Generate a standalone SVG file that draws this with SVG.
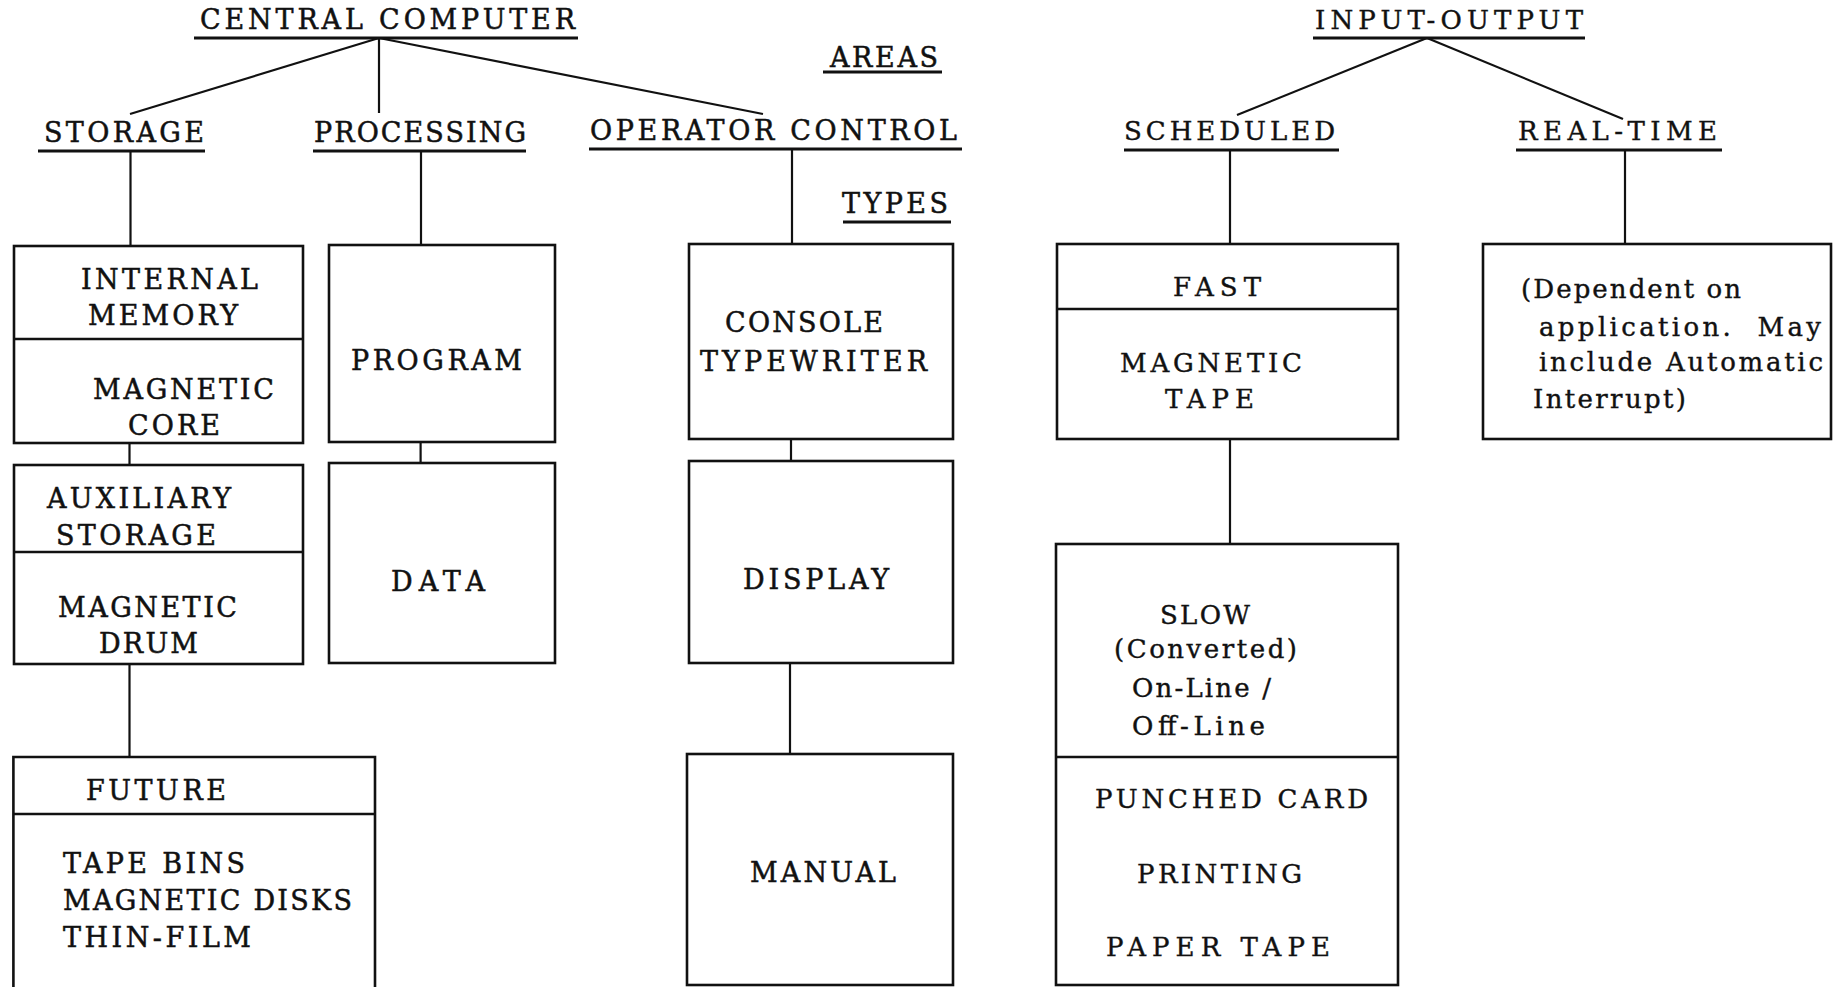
<svg xmlns="http://www.w3.org/2000/svg" width="1838" height="987" viewBox="0 0 1838 987">
<style>
.bg{fill:#fff}
.box{fill:none;stroke:#111;stroke-width:2.6}
.ln{fill:none;stroke:#111;stroke-width:2.2}
.ul{fill:none;stroke:#111;stroke-width:2.8}
.t{font-family:"DejaVu Serif","Liberation Serif",serif;font-size:27px;fill:#111;stroke:#111;stroke-width:0.5}
.c{font-family:"DejaVu Serif","Liberation Serif",serif;font-size:26px;fill:#111;stroke:#111;stroke-width:0.4}
</style>
<rect class="bg" x="0" y="0" width="1838" height="987"/>
<g id="connectors">
<path class="ln" d="M379 38 L130 114"/>
<path class="ln" d="M379 38 L379 113"/>
<path class="ln" d="M379 38 L763 114"/>
<path class="ln" d="M130.5 151 V246"/>
<path class="ln" d="M421 151 V245"/>
<path class="ln" d="M792 149 V244"/>
<path class="ln" d="M129.5 443 V465"/>
<path class="ln" d="M129.5 664 V757"/>
<path class="ln" d="M420.6 442 V463"/>
<path class="ln" d="M791 439 V461"/>
<path class="ln" d="M790 663 V754"/>
<path class="ln" d="M1427 38 L1237 115"/>
<path class="ln" d="M1427 38 L1623 119"/>
<path class="ln" d="M1230 150 V244"/>
<path class="ln" d="M1625 150 V244"/>
<path class="ln" d="M1230 439 V544"/>
</g>
<g id="central-computer">
<text class="t" x="200" y="29" textLength="375" lengthAdjust="spacing">CENTRAL COMPUTER</text>
<path class="ul" d="M194 38 H578"/>
</g>
<g id="areas">
<text class="t" x="830" y="67" textLength="108" lengthAdjust="spacing">AREAS</text>
<path class="ul" d="M823 72 H942"/>
</g>
<g id="types">
<text class="t" x="842" y="213" textLength="106" lengthAdjust="spacing">TYPES</text>
<path class="ul" d="M843 222 H951"/>
</g>
<g id="storage">
<text class="t" x="44" y="142" textLength="160" lengthAdjust="spacing">STORAGE</text>
<path class="ul" d="M38 151 H205"/>
</g>
<g id="processing">
<text class="t" x="314" y="142" textLength="212" lengthAdjust="spacing">PROCESSING</text>
<path class="ul" d="M313 151 H526"/>
</g>
<g id="operator-control">
<text class="t" x="590" y="140" textLength="367" lengthAdjust="spacing">OPERATOR CONTROL</text>
<path class="ul" d="M589 149 H962"/>
</g>
<g id="internal-memory">
<rect class="box" x="14" y="246" width="289" height="197"/>
<path class="box" d="M14 339 H303"/>
<text class="t" x="81" y="289" textLength="177" lengthAdjust="spacing">INTERNAL</text>
<text class="t" x="88" y="325" textLength="150" lengthAdjust="spacing">MEMORY</text>
<text class="t" x="93" y="399" textLength="181" lengthAdjust="spacing">MAGNETIC</text>
<text class="t" x="128" y="435" textLength="92" lengthAdjust="spacing">CORE</text>
</g>
<g id="auxiliary-storage">
<rect class="box" x="14" y="465" width="289" height="199"/>
<path class="box" d="M14 552 H303"/>
<text class="t" x="47" y="508" textLength="184" lengthAdjust="spacing">AUXILIARY</text>
<text class="t" x="56" y="545" textLength="160" lengthAdjust="spacing">STORAGE</text>
<text class="t" x="58" y="617" textLength="179" lengthAdjust="spacing">MAGNETIC</text>
<text class="t" x="99" y="653" textLength="99" lengthAdjust="spacing">DRUM</text>
</g>
<g id="future">
<path class="box" d="M13.4 987 V757 H375 V987"/>
<path class="box" d="M13.4 814 H375"/>
<text class="t" x="86" y="800" textLength="140" lengthAdjust="spacing">FUTURE</text>
<text class="t" x="63" y="873" textLength="182" lengthAdjust="spacing">TAPE BINS</text>
<text class="t" x="63" y="910" textLength="289" lengthAdjust="spacing">MAGNETIC DISKS</text>
<text class="t" x="63" y="947" textLength="188" lengthAdjust="spacing">THIN-FILM</text>
</g>
<g id="program">
<rect class="box" x="329" y="245" width="226" height="197"/>
<text class="t" x="351" y="370" textLength="171" lengthAdjust="spacing">PROGRAM</text>
</g>
<g id="data">
<rect class="box" x="329" y="463" width="226" height="200"/>
<text class="t" x="391" y="591" textLength="94" lengthAdjust="spacing">DATA</text>
</g>
<g id="console-typewriter">
<rect class="box" x="689" y="244" width="264" height="195"/>
<text class="t" x="725" y="332" textLength="158" lengthAdjust="spacing">CONSOLE</text>
<text class="t" x="700" y="371" textLength="227" lengthAdjust="spacing">TYPEWRITER</text>
</g>
<g id="display">
<rect class="box" x="689" y="461" width="264" height="202"/>
<text class="t" x="743" y="589" textLength="146" lengthAdjust="spacing">DISPLAY</text>
</g>
<g id="manual">
<rect class="box" x="687" y="754" width="266" height="231"/>
<text class="t" x="750" y="882" textLength="146" lengthAdjust="spacing">MANUAL</text>
</g>
<g id="input-output">
<text class="c" x="1315" y="29" textLength="268" lengthAdjust="spacing">INPUT-OUTPUT</text>
<path class="ul" d="M1313 38 H1585"/>
</g>
<g id="scheduled">
<text class="c" x="1124" y="140" textLength="211" lengthAdjust="spacing">SCHEDULED</text>
<path class="ul" d="M1124 150 H1339"/>
</g>
<g id="real-time">
<text class="c" x="1518" y="140" textLength="199" lengthAdjust="spacing">REAL-TIME</text>
<path class="ul" d="M1516 150 H1722"/>
</g>
<g id="fast">
<rect class="box" x="1057" y="244" width="341" height="195"/>
<path class="box" d="M1057 309 H1398"/>
<text class="c" x="1173" y="296" textLength="88" lengthAdjust="spacing">FAST</text>
<text class="c" x="1120" y="372" textLength="182" lengthAdjust="spacing">MAGNETIC</text>
<text class="c" x="1165" y="408" textLength="89" lengthAdjust="spacing">TAPE</text>
</g>
<g id="slow">
<rect class="box" x="1056" y="544" width="342" height="441"/>
<path class="box" d="M1056 757 H1398"/>
<text class="c" x="1160" y="624" textLength="90" lengthAdjust="spacing">SLOW</text>
<text class="c" x="1114" y="658" textLength="183" lengthAdjust="spacing">(Converted)</text>
<text class="c" x="1132" y="697" textLength="139" lengthAdjust="spacing">On-Line /</text>
<text class="c" x="1132" y="735" textLength="133" lengthAdjust="spacing">Off-Line</text>
<text class="c" x="1095" y="808" textLength="273" lengthAdjust="spacing">PUNCHED CARD</text>
<text class="c" x="1137" y="883" textLength="165" lengthAdjust="spacing">PRINTING</text>
<text class="c" x="1106" y="956" textLength="224" lengthAdjust="spacing">PAPER TAPE</text>
</g>
<g id="real-time-detail">
<rect class="box" x="1483" y="244" width="348" height="195"/>
<text class="c" x="1521" y="298" textLength="220" lengthAdjust="spacing">(Dependent on</text>
<text class="c" x="1539" y="336" textLength="282" lengthAdjust="spacing" style="white-space:pre">application.  May</text>
<text class="c" x="1539" y="371" textLength="284" lengthAdjust="spacing">include Automatic</text>
<text class="c" x="1533" y="408" textLength="153" lengthAdjust="spacing">Interrupt)</text>
</g>
</svg>
